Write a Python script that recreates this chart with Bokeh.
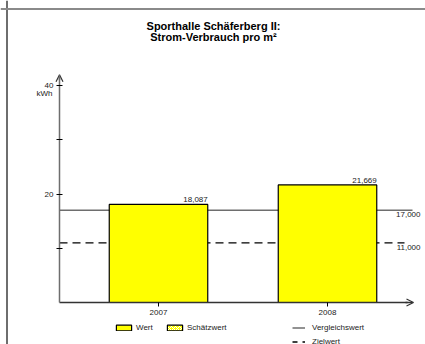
from bokeh.plotting import figure
from bokeh.models import (Range1d, FixedTicker, Label, Legend, LegendItem, Arrow,
                          OpenHead, Span, ColumnDataSource, LinearAxis)
from bokeh.embed import file_html
from bokeh.resources import INLINE

# ---- data ----
years = [2007, 2008]
werte = [18.087, 21.669]
wert_labels = ["18,087", "21,669"]
vergleichswert = 17.0
zielwert = 11.0
vergleich_label = "17,000"
ziel_label = "11,000"
title1 = "Sporthalle Schäferberg II:"
title2 = "Strom-Verbrauch pro m²"
y_ticks = [10, 20, 30, 40]
y_tick_labels = {10: "", 20: "20", 30: "", 40: "40"}

FONT = "Liberation Sans"
W, H = 425, 344

# pixel mapping helpers (layout only)
PX_Y = 5.425          # px per kWh
Y0_PX = 302           # y=0 position from figure top
PX_X = 169.0          # px per year
X2007_PX = 158        # 2007 position from figure left

y_start = -(H - Y0_PX) / PX_Y
y_end = Y0_PX / PX_Y
x_start = years[0] - X2007_PX / PX_X
x_end = years[0] + (W - X2007_PX) / PX_X
axis_x = years[0] - 99 / PX_X
bar_w = 98.5 / PX_X
NAN = float("nan")

p = figure(width=W, height=H, output_backend="svg", toolbar_location=None,
           x_range=Range1d(x_start, x_end), y_range=Range1d(y_start, y_end),
           min_border=0, title=None, x_axis_type=None, y_axis_type=None)
p.outline_line_color = None
p.grid.visible = False
p.background_fill_color = "white"
p.border_fill_color = "white"

# frame border (left/top)
p.add_layout(Span(location=x_start + 6.5 / PX_X, dimension="height",
                  line_color="#6e6e6e", line_width=2))
p.add_layout(Span(location=y_end - 8.5 / PX_Y, dimension="width",
                  line_color="#8a8a8a", line_width=2))

# reference lines
x_line_end = years[-1] + 85 / PX_X
x_dash_end = years[-1] + 77 / PX_X
vl = p.line([axis_x, x_line_end], [vergleichswert, vergleichswert],
            line_color="#6e6e6e", line_width=1.5)
zl = p.line([axis_x, x_dash_end], [zielwert, zielwert],
            line_color="black", line_width=1.3, line_dash="8 5")

# bars
src = ColumnDataSource(dict(x=years, top=werte, lab=wert_labels,
                            xr=[y + bar_w / 2 for y in years]))
bars = p.vbar(x="x", top="top", width=bar_w, bottom=0, source=src,
              fill_color="#FFFF00", line_color="black", line_width=1.2)
p.text(x="xr", y="top", text="lab", source=src, text_align="right",
       text_baseline="bottom", y_offset=-2, text_font_size="8px",
       text_color="#222222", text_font={"value": FONT})

# reference line labels
lab_x = x_end - 5 / PX_X
p.text(x=[lab_x, lab_x], y=[vergleichswert, zielwert],
       text=[vergleich_label, ziel_label], text_align="right",
       text_baseline="top", y_offset=2, text_font_size="8px",
       text_color="#222222", text_font={"value": FONT})

# axes
yax = LinearAxis(fixed_location=axis_x, ticker=FixedTicker(ticks=y_ticks),
                 major_label_overrides=y_tick_labels, bounds=(0, 41.5))
yax.axis_line_color = "#6e6e6e"
yax.axis_line_width = 1.5
yax.major_tick_in = 3
yax.major_tick_out = 3
yax.major_tick_line_color = "black"
yax.major_tick_line_width = 1.2
yax.minor_tick_line_color = None
yax.major_label_text_font = FONT
yax.major_label_text_font_size = "8px"
yax.major_label_text_color = "#222222"
yax.major_label_standoff = 3
p.add_layout(yax, "left")

xax = LinearAxis(fixed_location=0, ticker=FixedTicker(ticks=years),
                 major_label_overrides={y: str(y) for y in years},
                 bounds=(axis_x, years[-1] + 80 / PX_X))
xax.axis_line_color = "#333333"
xax.axis_line_width = 1.5
xax.major_tick_in = 0
xax.major_tick_out = 4
xax.major_tick_line_color = "black"
xax.minor_tick_line_color = None
xax.major_label_text_font = FONT
xax.major_label_text_font_size = "8px"
xax.major_label_text_color = "#222222"
xax.major_label_standoff = 3
p.add_layout(xax, "below")

# arrow heads
p.add_layout(Arrow(end=OpenHead(size=7, line_color="#333333", line_width=1.2),
                   x_start=axis_x, y_start=41.0, x_end=axis_x, y_end=42.0,
                   line_color="#6e6e6e", line_width=1.5))
p.add_layout(Arrow(end=OpenHead(size=7, line_color="#333333", line_width=1.2),
                   x_start=years[-1] + 78 / PX_X, y_start=0,
                   x_end=years[-1] + 86 / PX_X, y_end=0,
                   line_color="#333333", line_width=1.5))

# kWh unit label
p.add_layout(Label(x=axis_x, y=40, x_units="data", y_units="data", text="kWh",
                   text_align="right", text_baseline="middle", x_offset=-7,
                   y_offset=-8, text_font=FONT, text_font_size="8px",
                   text_color="#222222"))

# title
for txt, yy in [(title1, H - 25.5), (title2, H - 36)]:
    p.add_layout(Label(x=213, y=yy, x_units="screen", y_units="screen", text=txt,
                       text_align="center", text_baseline="middle",
                       text_font=FONT, text_font_size="11px",
                       text_font_style="bold", text_color="black"))

# legend-only renderers (no values drawn)
est = p.vbar(x=[years[0]], top=[NAN], width=bar_w, fill_color="#FFFF00",
             line_color="black", line_width=1.2, hatch_pattern="x",
             hatch_color="white", hatch_scale=4, hatch_weight=1)
zl_leg = p.line(x=[years[0]], y=[NAN], line_color="black", line_width=1.3,
                line_dash="5 5")

leg1 = Legend(items=[LegendItem(label="Wert", renderers=[bars]),
                     LegendItem(label="Schätzwert", renderers=[est])],
              location=(114, 12), orientation="horizontal",
              glyph_width=19, glyph_height=7, label_standoff=3, spacing=9,
              label_height=10, padding=0, margin=0, border_line_color=None,
              background_fill_alpha=0, label_text_font=FONT,
              label_text_font_size="8px", label_text_color="#222222")
leg2 = Legend(items=[LegendItem(label="Vergleichswert", renderers=[vl]),
                     LegendItem(label="Zielwert", renderers=[zl_leg])],
              location=(292, -2), orientation="vertical",
              glyph_width=13, glyph_height=7, label_standoff=7, spacing=4,
              label_height=10, padding=0, margin=0, border_line_color=None,
              background_fill_alpha=0, label_text_font=FONT,
              label_text_font_size="8px", label_text_color="#222222")
p.add_layout(leg1, "center")
p.add_layout(leg2, "center")

open("out.html", "w").write(file_html(p, INLINE))
